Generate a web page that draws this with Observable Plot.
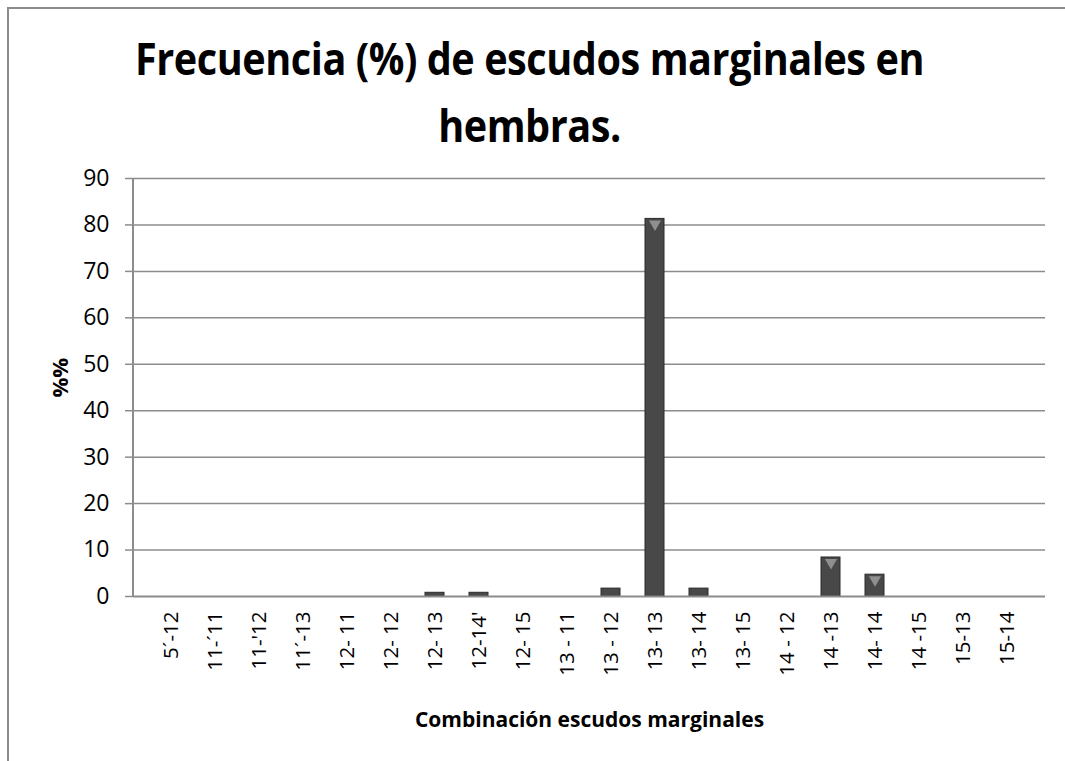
<!DOCTYPE html>
<html>
<head>
<meta charset="utf-8">
<script src="https://cdn.jsdelivr.net/npm/d3@7"></script>
<script src="https://cdn.jsdelivr.net/npm/@observablehq/plot@0.6"></script>
<style>
  html, body { margin: 0; padding: 0; background: #fff; }
  #wrap { position: relative; width: 1065px; height: 761px; overflow: hidden; font-family: "Open Sans", sans-serif; }
  #frame { position: absolute; left: 7px; top: 7px; width: 1100px; height: 800px; border-left: 2px solid #8c8c8c; border-top: 2px solid #8c8c8c; box-sizing: border-box; }
  #title { position: absolute; left: 0; top: 24px; width: 1065px; text-align: center; font-weight: 700; font-size: 45px; line-height: 67px; color: #000; letter-spacing: -0.5px; transform: translateX(-3px) scaleX(0.88); }
  #chart { position: absolute; left: 0; top: 0; }
  #chart .ytl, #chart .ytl text { font-size: 23px !important; }
  #chart .xtl, #chart .xtl text { font-size: 20.5px !important; }
</style>
</head>
<body>
<div id="wrap">
  <div id="frame"></div>
  <div id="chart"></div>
  <div id="title">Frecuencia (%) de escudos marginales en<br>hembras.</div>
</div>
<script>
const categories = ["5´-12", "11-´11", "11-'12", "11´-13", "12- 11", "12- 12", "12- 13", "12-14'", "12- 15", "13 - 11", "13 - 12", "13- 13", "13- 14", "13- 15", "14 - 12", "14 -13", "14- 14", "14 -15", "15-13", "15-14"];
const values = [0, 0, 0, 0, 0, 0, 0.8, 0.8, 0, 0, 1.7, 81.3, 1.7, 0, 0, 8.4, 4.7, 0, 0, 0];
const yTicks = [0, 10, 20, 30, 40, 50, 60, 70, 80, 90];

const data = categories.map((c, i) => ({cat: c, v: values[i]}));
const nonzero = data.filter(d => d.v > 0);
const tall = data.filter(d => d.v > 3);

const chart = Plot.plot({
  width: 1065,
  height: 761,
  marginTop: 178,
  marginBottom: 165,
  marginLeft: 133,
  marginRight: 20,
  style: { fontFamily: "'Open Sans', sans-serif", background: "transparent", overflow: "visible" },
  x: { domain: categories, padding: 0.56, label: null },
  y: { domain: [0, 90], label: null },
  marks: [
    Plot.ruleY(yTicks.filter(t => t > 0), { stroke: "#8c8c8c", strokeWidth: 1.5, strokeOpacity: 1 }),
    Plot.axisY(yTicks, { tickSize: 8, tickPadding: 16, fontSize: 23, stroke: "#8c8c8c", strokeWidth: 1.5, strokeOpacity: 1, fill: "#000", label: null }),
    Plot.axisX({ tickSize: 0, tickPadding: 15, tickRotate: -90, fontSize: 20.5, fill: "#000", label: null }),
    Plot.barY(nonzero, { x: "cat", y: "v", fill: "#484848", stroke: "#2b2b2b", strokeWidth: 1 }),
    Plot.dot(tall, { x: "cat", y: "v", symbol: "triangle", rotate: 180, r: 4.5, fill: "#8f8f8f", stroke: "none", dy: 5 }),
    Plot.ruleY([0], { stroke: "#8c8c8c", strokeWidth: 2 }),
    Plot.text(["Combinación escudos marginales"], { frameAnchor: "bottom", dy: 130, fontSize: 21, fontWeight: "bold", fill: "#000" }),
    Plot.text(["%%"], { frameAnchor: "left", dx: -73, dy: 10, rotate: -90, fontSize: 22, fontWeight: "bold", fill: "#000" })
  ]
});
document.getElementById("chart").appendChild(chart);

// tag the tick-label groups so their size can be set
const root = d3.select(chart);
root.selectAll("g").each(function() {
  const a = this.getAttribute("aria-label") || "";
  if (a.includes("y-axis tick label")) this.classList.add("ytl");
  if (a.includes("x-axis tick label")) this.classList.add("xtl");
});

// Vertical value-axis line placed through the library's own scales
const xs = chart.scale("x"), ys = chart.scale("y");
const x0 = xs.range[0];
root.append("line")
  .attr("x1", x0).attr("x2", x0)
  .attr("y1", ys.apply(90)).attr("y2", ys.apply(0))
  .attr("stroke", "#8c8c8c").attr("stroke-width", 2);
</script>
</body>
</html>
